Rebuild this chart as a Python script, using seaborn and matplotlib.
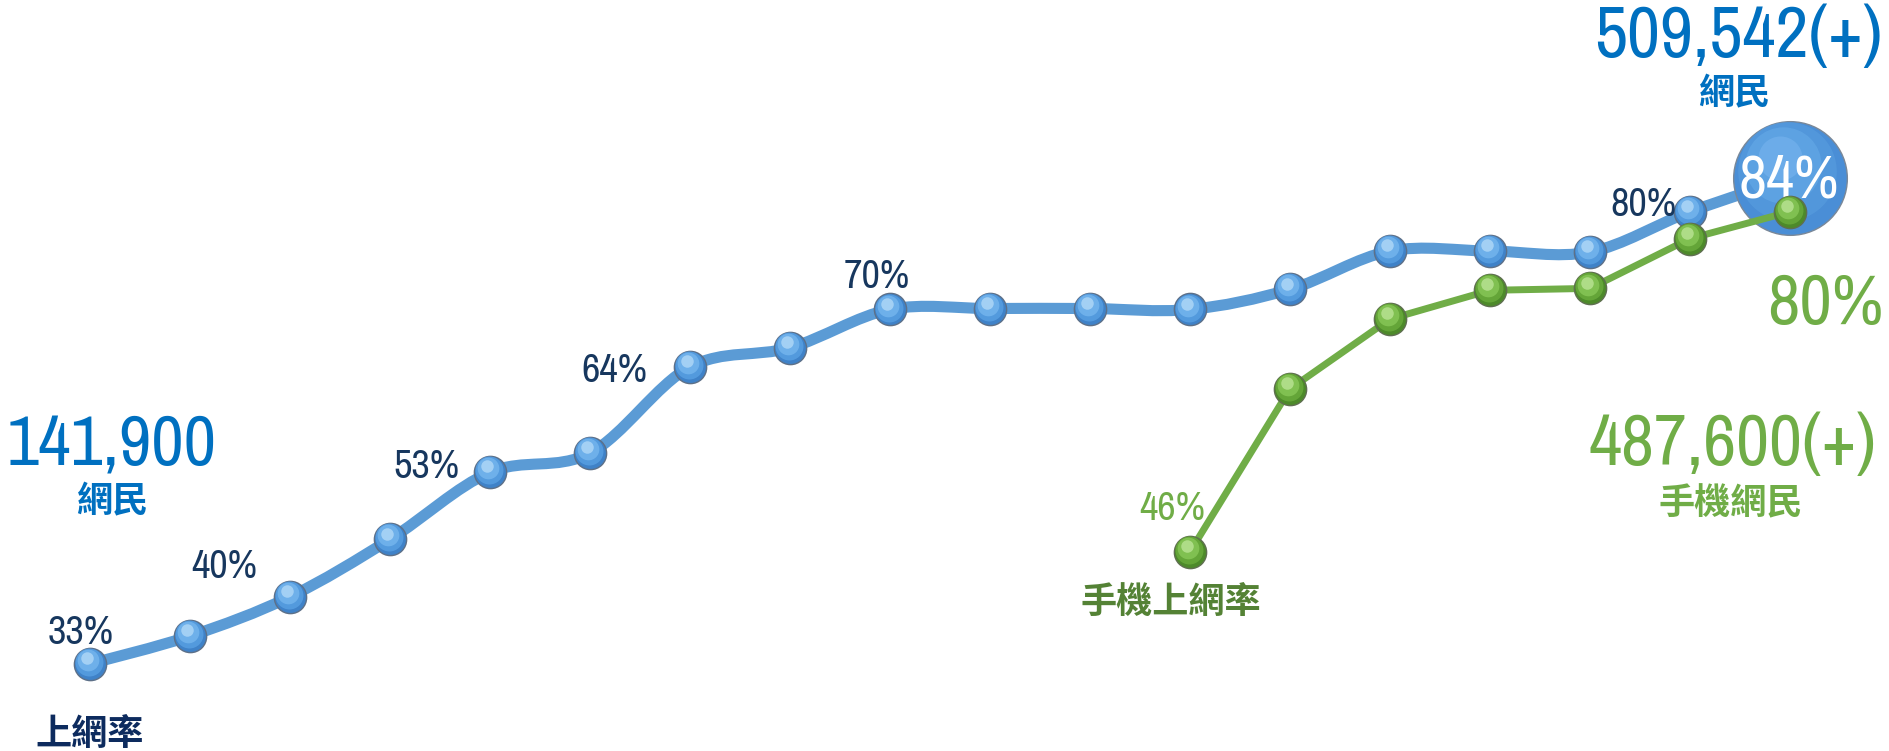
import matplotlib
matplotlib.use("Agg")
import matplotlib.pyplot as plt
import matplotlib.transforms as mtransforms
from matplotlib import font_manager
from matplotlib.path import Path
from matplotlib.patches import PathPatch
import numpy as np
import pandas as pd
import seaborn as sns

# Values (internet penetration, %)
steps = list(range(18))
net_rate = [33, 35.9, 40, 46, 53, 55, 64, 66, 70, 70.1, 70.1, 70, 72.1, 76.1, 76.1, 76.0, 80.2, 83.7]
mobile_steps = list(range(11, 18))
mobile_rate = [44.7, 61.7, 69.0, 72.0, 72.2, 77.4, 80.2]

# labels written next to some points
net_labels = ["33%", "40%", "53%", "64%", "70%", "80%"]
net_label_pos = [(81, 632), (224, 566), (426, 467), (614, 371), (877, 277), (1643, 205)]
end_label = "84%"
mobile_start_label = "46%"
mobile_end_label = "80%"

# colours
BLUE_LINE = "#5b9bd5"
BLUE_TEXT = "#0070c0"
NAVY = "#17375e"
GREEN = "#70ad47"
DARK_GREEN = "#548235"

W, H = 1889, 751

sns.set_theme(style="white")

# pick a narrow font for the numbers if one is installed
fonts = font_manager.fontManager.ttflist
narrow = [f.name for f in fonts
          if "Narrow" in f.name or "Condensed" in f.name
          or f.stretch in ("condensed", "semi-condensed", "extra-condensed")]
if narrow:
    NUM_FONT = [sorted(set(narrow))[0]]
    SCALE = 1.0
else:
    NUM_FONT = ["Liberation Sans"]
    SCALE = 0.9
CJK_FONT = ["Noto Sans CJK TC", "DejaVu Sans"]
plt.rcParams["font.family"] = NUM_FONT + ["Noto Sans CJK TC", "DejaVu Sans"]
plt.rcParams["font.stretch"] = "condensed"
plt.rcParams["font.weight"] = "light"

fig = plt.figure(figsize=(W / 100, H / 100), dpi=100)
ax = fig.add_axes([0, 0, 1, 1])


def px(x, y):
    # pixel position -> axes fraction
    return x / W, 1 - y / H


def smooth_path(xs, ys):
    # catmull-rom curve through the points as cubic bezier segments
    p = np.column_stack([xs, ys]).astype(float)
    p = np.vstack([p[0], p, p[-1]])
    verts = [p[1]]
    codes = [Path.MOVETO]
    for i in range(1, len(p) - 2):
        c1 = p[i] + (p[i + 1] - p[i - 1]) / 6
        c2 = p[i + 1] - (p[i + 2] - p[i]) / 6
        verts += [c1, c2, p[i + 1]]
        codes += [Path.CURVE4] * 3
    return Path(verts, codes)


def balls(xs, ys, shades, edge, size, z):
    # glossy sphere: dark base, lighter discs shifted up-left
    df = pd.DataFrame({"x": xs, "y": ys})
    sns.scatterplot(data=df, x="x", y="y", s=size, color=shades[0], edgecolor=edge,
                    linewidth=1.0, ax=ax, zorder=z, legend=False)
    r = np.sqrt(size) / 2
    for frac, col, up in [(0.75, shades[1], 0.12), (0.45, shades[2], 0.24), (0.15, shades[3], 0.36)]:
        tr = ax.transData + mtransforms.ScaledTranslation(-up * r / 144, up * r / 72, fig.dpi_scale_trans)
        ax.scatter(xs, ys, s=size * frac, color=col, linewidth=0, zorder=z + 0.1,
                   transform=tr, alpha=0.9)


# blue curve (overall internet users)
ax.add_patch(PathPatch(smooth_path(steps, net_rate), facecolor="none",
                       edgecolor=BLUE_LINE, lw=8, capstyle="round", zorder=2))
balls(steps[:-1], net_rate[:-1], ["#3f82c8", "#569de0", "#72b3ec", "#a9d4f6"], "#5d7088", 540, 3)

# big bubble at the end
balls(steps[-1:], net_rate[-1:], ["#4a8ed6", "#5499dc", "#5fa4e3", "#6eaeea"], "#7a8898", 6700, 4)
ax.text(*px(1789, 181), end_label, transform=ax.transAxes, ha="center", va="center",
        color="white", fontsize=44 * SCALE, zorder=5)

# green line (mobile internet)
mob = pd.DataFrame({"step": mobile_steps, "rate": mobile_rate})
sns.lineplot(data=mob, x="step", y="rate", color=GREEN, lw=5, ax=ax, zorder=6)
balls(mobile_steps, mobile_rate, ["#4d8a2a", "#67a93a", "#84c454", "#b4e08e"], "#5f6f50", 540, 7)

ax.set_xlim(-0.9, 17.99)
ax.set_ylim(23.9, 102.31)
ax.set_xlabel("")
ax.set_ylabel("")
ax.axis("off")

# percent labels on the blue curve
for lab, (x, y) in zip(net_labels, net_label_pos):
    ax.text(*px(x, y), lab, transform=ax.transAxes, ha="center", va="center",
            color=NAVY, fontsize=29 * SCALE)

ax.text(*px(1172, 509), mobile_start_label, transform=ax.transAxes, ha="center",
        va="center", color=GREEN, fontsize=29 * SCALE)
ax.text(*px(1883, 304), mobile_end_label, transform=ax.transAxes, ha="right",
        va="center", color=GREEN, fontsize=51 * SCALE)

# headline numbers
ax.text(*px(112, 446), "141,900", transform=ax.transAxes, ha="center", va="center",
        color=BLUE_TEXT, fontsize=51 * SCALE)
ax.text(*px(112, 502), "網民", transform=ax.transAxes, ha="center", va="center",
        color=BLUE_TEXT, fontsize=26, fontweight="bold", family=CJK_FONT)
ax.text(*px(1883, 38), "509,542(+)", transform=ax.transAxes, ha="right", va="center",
        color=BLUE_TEXT, fontsize=52 * SCALE)
ax.text(*px(1734, 94), "網民", transform=ax.transAxes, ha="center", va="center",
        color=BLUE_TEXT, fontsize=26, fontweight="bold", family=CJK_FONT)
ax.text(*px(1877, 446), "487,600(+)", transform=ax.transAxes, ha="right", va="center",
        color=GREEN, fontsize=52 * SCALE)
ax.text(*px(1731, 504), "手機網民", transform=ax.transAxes, ha="center", va="center",
        color=GREEN, fontsize=26, fontweight="bold", family=CJK_FONT)

# series names
ax.text(*px(90, 735), "上網率", transform=ax.transAxes, ha="center", va="center",
        color="#0d2b5e", fontsize=26, fontweight="bold", family=CJK_FONT)
ax.text(*px(1171, 602), "手機上網率", transform=ax.transAxes, ha="center", va="center",
        color=DARK_GREEN, fontsize=26, fontweight="bold", family=CJK_FONT)

fig.savefig("out.png", dpi=100)
